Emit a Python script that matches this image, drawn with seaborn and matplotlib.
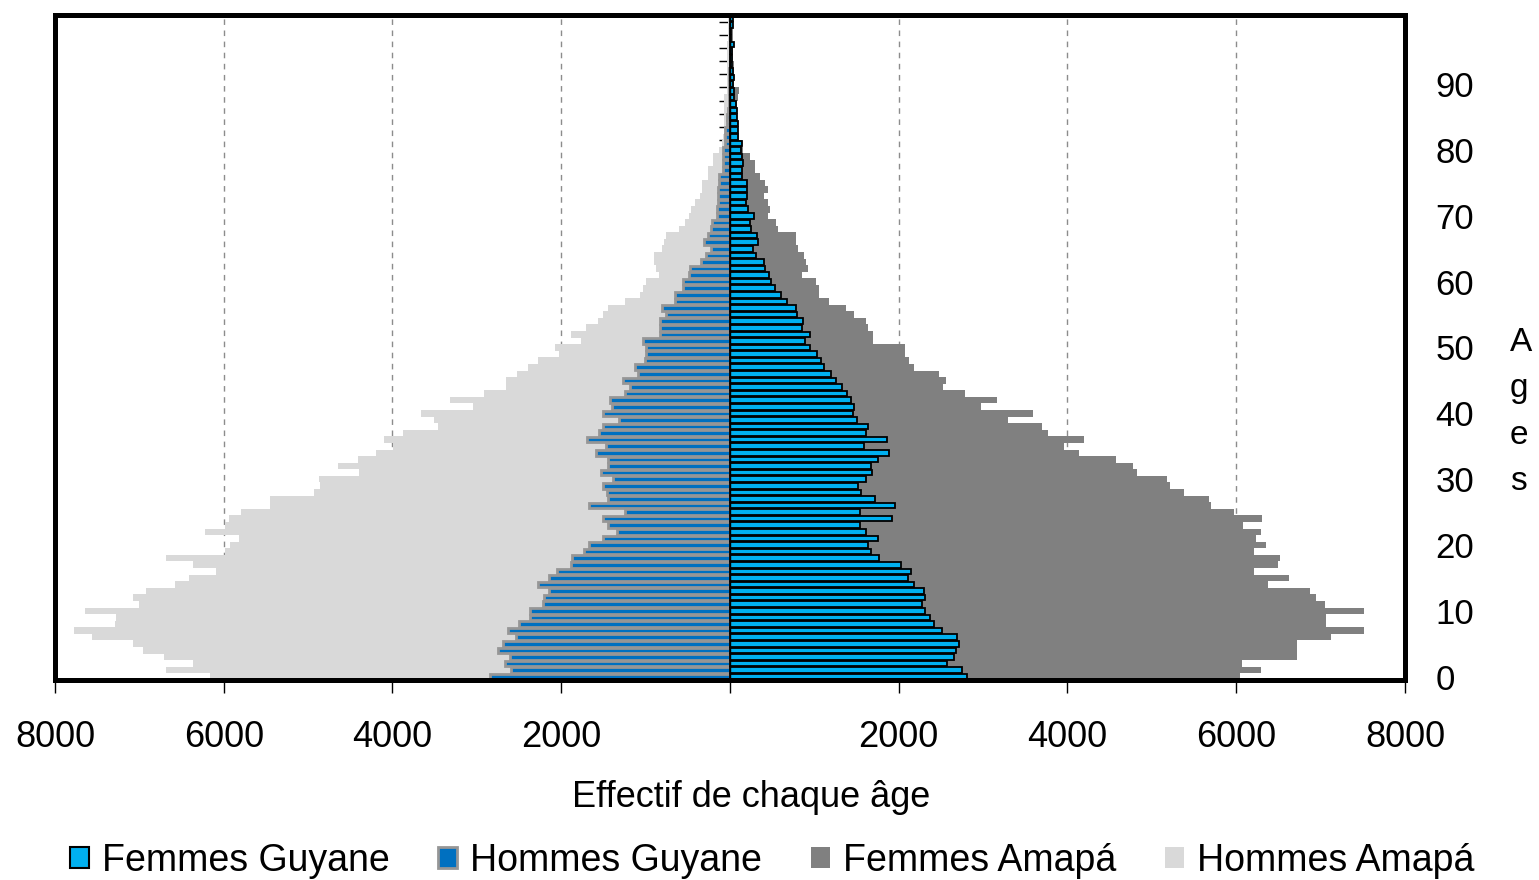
import numpy as np
import pandas as pd
import matplotlib
matplotlib.use("Agg")
import matplotlib.pyplot as plt
from matplotlib.patches import Patch, Rectangle
from matplotlib.ticker import FixedLocator
import seaborn as sns

# ages 0..100
ages = list(range(101))

femmes_guyane = [
    2810, 2750, 2570, 2660, 2680, 2710, 2690, 2510, 2420, 2370,
    2310, 2280, 2310, 2300, 2180, 2110, 2150, 2030, 1770, 1670,
    1640, 1760, 1610, 1540, 1920, 1540, 1950, 1720, 1550, 1520,
    1610, 1680, 1670, 1750, 1880, 1590, 1860, 1610, 1640, 1500,
    1460, 1470, 1430, 1390, 1330, 1260, 1200, 1120, 1080, 1030,
    950, 890, 950, 850, 870, 790, 780, 670, 600, 530,
    490, 460, 420, 400, 310, 270, 330, 320, 250, 240,
    280, 210, 190, 200, 200, 200, 140, 140, 150, 140,
    130, 140, 90, 100, 100, 80, 80, 70, 50, 45,
    37, 45, 37, 20, 20, 20, 42, 10, 10, 37, 37,
]
hommes_guyane = [
    2840, 2600, 2670, 2610, 2750, 2690, 2540, 2630, 2500, 2370,
    2370, 2220, 2200, 2140, 2270, 2150, 2050, 1890, 1870, 1730,
    1670, 1500, 1340, 1450, 1500, 1250, 1670, 1450, 1460, 1500,
    1390, 1530, 1440, 1450, 1590, 1470, 1700, 1550, 1500, 1320,
    1500, 1400, 1420, 1250, 1180, 1270, 1090, 1120, 1010, 990,
    990, 1030, 830, 830, 830, 760, 810, 650, 650, 560,
    560, 480, 470, 340, 280, 230, 310, 260, 230, 210,
    155, 155, 145, 140, 145, 130, 130, 80, 80, 80,
    80, 55, 55, 55, 40, 30, 20, 15, 15, 12,
    10, 8, 6, 5, 4, 3, 3, 2, 2, 1, 1,
]
femmes_amapa = [
    6040, 6290, 6070, 6720, 6720, 6720, 7120, 7520, 7060, 7060,
    7520, 7050, 6940, 6870, 6380, 6620, 6210, 6500, 6520, 6210,
    6350, 6230, 6290, 6080, 6300, 5970, 5700, 5680, 5380, 5220,
    5180, 4820, 4780, 4570, 4140, 3960, 4190, 3770, 3700, 3290,
    3590, 2970, 3170, 2790, 2520, 2560, 2480, 2180, 2120, 2080,
    2070, 1700, 1700, 1640, 1610, 1470, 1370, 1170, 1060, 1060,
    1020, 850, 920, 900, 880, 810, 780, 780, 570, 540,
    450, 480, 450, 400, 450, 420, 355, 300, 300, 240,
    160, 140, 110, 80, 80, 60, 60, 80, 90, 110,
    50, 50, 45, 45, 40, 40, 35, 35, 35, 30, 30,
]
hommes_amapa = [
    6160, 6690, 6360, 6710, 6960, 7070, 7560, 7770, 7290, 7280,
    7650, 7000, 7070, 6920, 6580, 6410, 6090, 6370, 6680, 5980,
    5930, 5820, 6220, 5980, 5940, 5790, 5450, 5450, 4930, 4860,
    4870, 4400, 4640, 4410, 4200, 3990, 4100, 3880, 3460, 3510,
    3660, 3040, 3320, 2910, 2660, 2650, 2530, 2390, 2280, 2030,
    2070, 1770, 1880, 1710, 1570, 1500, 1440, 1240, 1070, 1030,
    990, 840, 880, 900, 900, 810, 780, 760, 600, 530,
    480, 460, 420, 360, 330, 330, 264, 264, 200, 200,
    130, 100, 80, 70, 70, 70, 70, 70, 70, 40,
    35, 35, 35, 30, 30, 30, 30, 25, 25, 25, 20,
]

x_ticks = [-8000, -6000, -4000, -2000, 0, 2000, 4000, 6000, 8000]
x_labels = ["8000", "6000", "4000", "2000", "", "2000", "4000", "6000", "8000"]
age_ticks = [0, 10, 20, 30, 40, 50, 60, 70, 80, 90]
legend_labels = ["Femmes Guyane", "Hommes Guyane", "Femmes Amapá", "Hommes Amapá"]

c_fg, c_hg, c_fa, c_ha = "#00B0F0", "#0070C0", "#808080", "#D9D9D9"

sns.set_theme(style="white", rc={"text.color": "black", "axes.labelcolor": "black",
                                 "xtick.color": "black", "ytick.color": "black"})
plt.rcParams["font.family"] = ["Liberation Sans", "DejaVu Sans"]

df = pd.DataFrame({
    "age": ages,
    "fg": femmes_guyane,
    "hg": [-v for v in hommes_guyane],
    "fa": femmes_amapa,
    "ha": [-v for v in hommes_amapa],
})

fig = plt.figure(figsize=(15.39, 8.8), dpi=100)
ax = fig.add_axes([55 / 1539, 1 - 680 / 880, 1350 / 1539, 665 / 880])

# Amapá behind, Guyane on top
sns.barplot(data=df, x="ha", y="age", orient="y", native_scale=True, width=1.0,
            color=c_ha, saturation=1, errorbar=None, linewidth=0, ax=ax)
sns.barplot(data=df, x="fa", y="age", orient="y", native_scale=True, width=1.0,
            color=c_fa, saturation=1, errorbar=None, linewidth=0, ax=ax)
sns.barplot(data=df, x="hg", y="age", orient="y", native_scale=True, width=0.85,
            color=c_hg, saturation=1, errorbar=None, edgecolor="#969696",
            linewidth=2, ax=ax)
sns.barplot(data=df, x="fg", y="age", orient="y", native_scale=True, width=0.85,
            color=c_fg, saturation=1, errorbar=None, edgecolor="black",
            linewidth=1.3, ax=ax)

ax.set_xlim(-8000, 8000)
ax.set_ylim(-0.5, 100.5)
ax.set_axisbelow(True)
ax.grid(axis="x", color="#8c8c8c", linestyle=(0, (4, 4)), linewidth=1)
ax.grid(axis="y", visible=False)

# central vertical axis with small ticks every two years
ax.spines["left"].set_position(("data", 0))
ax.spines["left"].set_color("black")
ax.spines["left"].set_linewidth(1)
for s in ["right", "top", "bottom"]:
    ax.spines[s].set_visible(False)
ax.add_patch(Rectangle((0, 0), 1, 1, transform=ax.transAxes, fill=False,
                       edgecolor="black", linewidth=3.6, clip_on=False, zorder=10))

ax.set_yticks(age_ticks)
ax.yaxis.set_minor_locator(FixedLocator(np.arange(-0.5, 100, 2)))
ax.tick_params(axis="y", which="major", left=False, labelleft=False,
               right=False, labelright=True, length=0, labelsize=25, pad=22)
ax.tick_params(axis="y", which="minor", left=True, right=False, length=8,
               width=1, direction="out", color="black")

ax.set_xticks(x_ticks, x_labels)
ax.tick_params(axis="x", which="major", bottom=True, length=9, width=1,
               direction="out", labelsize=26, pad=20)

ax.set_ylabel("")
ax.set_xlabel("Effectif de chaque âge", fontsize=26)
ax.xaxis.set_label_coords((751 - 55) / 1350, -(797 - 680) / 665)
ax.xaxis.label.set_va("center")

fig.text(1510 / 1539, 1 - 412 / 880, "A\ng\ne\ns", fontsize=24,
         ha="left", va="center", linespacing=1.65)

handles = [
    Patch(facecolor=c_fg, edgecolor="black", linewidth=1.5),
    Patch(facecolor=c_hg, edgecolor="#969696", linewidth=2),
    Patch(facecolor=c_fa, edgecolor="none"),
    Patch(facecolor=c_ha, edgecolor="none"),
]
fig.legend(handles, legend_labels, loc="center", bbox_to_anchor=(772 / 1539, 1 - 861 / 880),
           ncol=4, frameon=False, fontsize=27, handlelength=0.5, handleheight=0.5,
           handletextpad=0.35, columnspacing=1.3)

fig.savefig("out.png", dpi=100)
